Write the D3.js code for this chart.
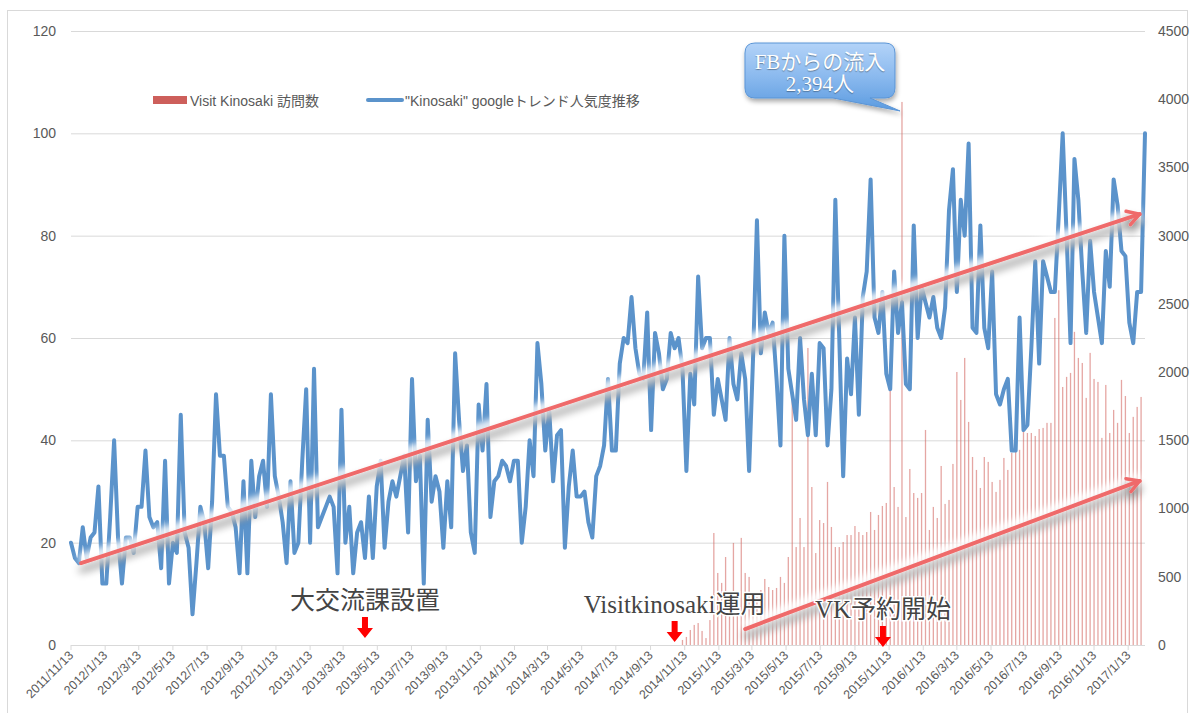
<!DOCTYPE html>
<html><head><meta charset="utf-8">
<script src="https://cdn.jsdelivr.net/npm/d3@7"></script>
<style>body{margin:0;background:#fff}svg{display:block}</style>
</head><body>
<svg id="chart" width="1195" height="713"></svg>
<script>
// ---------------- data ----------------
const trendStart = "2011/11/13";   // weekly series start (Google Trends)
const trendValues = [
 20,17,16,23,17,21,22,31,12,12, 25,40,21,12,21,21,18,27,27,38, 25,23,24,15,36,12,20,18,45,22,
 19,6,16,27,24,15,28,49,37,37, 27,26,23,14,32,14,36,25,33,36, 27,49,33,29,24,16,32,18,20,36,
 50,20,54,23,25,27,29,27,14,
 46,20,27,14,22,24,17,29,17,31, 36,19,28,32,29,33,37,22,52,32, 37,12,44,28,33,30,19,32,23,57,
 44,34,39,22,18,47,38,51,25,32, 33,36,35,32,36,36,20,27,40,33, 59,51,38,46,32,41,42,19,31,38,
 29,29,30,24,21,33,35,39,52,
 38,38,55,60,59,68,58,53,52,65, 42,61,57,50,52,61,58,60,54,34, 53,47,72,58,60,60,45,52,48,44,
 60,51,48,57,52,34,56,83,57,65, 61,63,52,39,80,54,49,44,60,48, 41,53,41,59,58,39,50,87,60,33,
 56,49,64,45,68,73,91,64,61,
 69,53,50,73,61,67,51,50,82,60, 70,67,64,68,62,60,66,85,93,69, 87,80,98,62,61,82,62,58,73,49,
 47,50,52,38,38,64,42,43,58,75, 55,75,72,69,69,84,100,80,59,95, 87,73,61,79,69,64,59,77,70,91,
 86,77,76,63,59,69,69,100
];
const visitStart = "2014/11/09";   // weekly visits start
const visitValues = [
 37,59,110,147,161,103,51,183,
 821,528,455,645,381,748,381,785,528,499,
 381,352,403,484,425,403,418,499,455,645,
 1796,718,931,718,2177,1158,674,916,894,1195,
 865,718,718,755,806,806,872,828,806,828,
 975,843,953,1019,1041,1891,1158,1012,3980,938,
 1290,1114,1078,1114,1576,843,1012,931,1312,1034,
 1063,1327,2001,1796,2104,1635,1378,1283,1151,1378,
 1342,1195,1122,1210,1371,1283,1408,1415,1430,1635,
 1554,1554,1532,1583,1591,1628,1628,2397,2600,1891,
 1965,1994,2295,2104,2067,1811,2141,1950,1928,1518,
 1906,1554,1723,1628,1943,1825,1554,1672,1745,1818
];
const leftTicks = [0,20,40,60,80,100,120];
const rightTicks = [0,500,1000,1500,2000,2500,3000,3500,4000,4500];
const xTickLabels = ["2011/11/13","2012/1/13","2012/3/13","2012/5/13","2012/7/13","2012/9/13","2012/11/13",
 "2013/1/13","2013/3/13","2013/5/13","2013/7/13","2013/9/13","2013/11/13",
 "2014/1/13","2014/3/13","2014/5/13","2014/7/13","2014/9/13","2014/11/13",
 "2015/1/13","2015/3/13","2015/5/13","2015/7/13","2015/9/13","2015/11/13",
 "2016/1/13","2016/3/13","2016/5/13","2016/7/13","2016/9/13","2016/11/13","2017/1/13"];
const seriesNames = ["Visit Kinosaki 訪問数", "\"Kinosaki\" googleトレンド人気度推移"];
const eventLabels = ["大交流課設置", "Visitkinosaki運用", "VK予約開始"];
const eventDates = ["2013/4/21", "2014/10/26", "2015/11/2"];
const calloutLines = ["FBからの流入", "2,394人"];
// trend arrows: [startDate, startValue, endDate, endValue, axis]
const trendArrows = [
  ["2011/12/1", 16, "2017/2/6", 84.2, "left"],
  ["2015/3/1", 117, "2017/2/6", 1202, "right"]
];

// ---------------- chart ----------------
const parse = d3.timeParse("%Y/%m/%d");
const t0 = parse(trendStart), v0 = parse(visitStart);
const trend = trendValues.map((v,i)=>({date:d3.timeDay.offset(t0, 7*i), value:v}));
const visits = visitValues.map((v,i)=>({date:d3.timeDay.offset(v0, 7*i), value:v}));

const svg = d3.select("#chart");
const L = 71, R = 1145, T = 31, B = 645;
const x = d3.scaleTime().domain([t0, trend[trend.length-1].date]).range([L, R]);
const yL = d3.scaleLinear().domain([0,120]).range([B, T]);
const yR = d3.scaleLinear().domain([0,4500]).range([B, T]);
const txt = "#595959", grid = "#d9d9d9";
const sans = "'Liberation Sans','Noto Sans CJK JP',sans-serif";
const serif = "'Liberation Serif','Noto Sans CJK JP',serif";

const defs = svg.append("defs");
defs.html(`
 <filter id="shadow" filterUnits="userSpaceOnUse" x="0" y="0" width="1195" height="713">
   <feGaussianBlur in="SourceAlpha" stdDeviation="4.5" result="b"/>
   <feOffset in="b" dx="0" dy="7" result="o"/>
   <feComponentTransfer in="o" result="s"><feFuncA type="linear" slope="0.55"/></feComponentTransfer>
   <feMerge><feMergeNode in="s"/><feMergeNode in="SourceGraphic"/></feMerge>
 </filter>
 <filter id="glow" filterUnits="userSpaceOnUse" x="0" y="0" width="1195" height="713">
   <feGaussianBlur stdDeviation="3"/>
 </filter>
 <filter id="cshadow" filterUnits="userSpaceOnUse" x="0" y="0" width="1195" height="713">
   <feGaussianBlur in="SourceAlpha" stdDeviation="2.5" result="b"/>
   <feOffset in="b" dx="1" dy="3" result="o"/>
   <feComponentTransfer in="o" result="s"><feFuncA type="linear" slope="0.35"/></feComponentTransfer>
   <feMerge><feMergeNode in="s"/><feMergeNode in="SourceGraphic"/></feMerge>
 </filter>
 <linearGradient id="cgrad" x1="0" y1="0" x2="0" y2="1">
   <stop offset="0" stop-color="#b3d3f8"/><stop offset="0.5" stop-color="#8ab9ee"/><stop offset="1" stop-color="#5b9be0"/>
 </linearGradient>
 <marker id="ah" markerUnits="userSpaceOnUse" markerWidth="20" markerHeight="20" refX="15" refY="10" orient="auto">
   <path d="M3,3 L15,10 L3,17" fill="none" stroke="#ef6a6a" stroke-width="3.5" stroke-linecap="round" stroke-linejoin="round"/>
 </marker>`);

// outer border
svg.append("rect").attr("x",7.5).attr("y",10.5).attr("width",1180).attr("height",710)
  .attr("fill","none").attr("stroke",grid);

// gridlines (left axis)
svg.append("g").selectAll("line").data(leftTicks.filter(d=>d>0)).join("line")
  .attr("x1",L).attr("x2",R).attr("y1",d=>yL(d)+0.5).attr("y2",d=>yL(d)+0.5)
  .attr("stroke",grid).attr("stroke-width",1);

// left axis labels
svg.append("g").selectAll("text").data(leftTicks).join("text")
  .attr("x",56).attr("y",d=>yL(d)).attr("dy","0.35em").attr("text-anchor","end")
  .attr("font-family",sans).attr("font-size",14).attr("fill",txt).text(d=>d);
// right axis labels
svg.append("g").selectAll("text").data(rightTicks).join("text")
  .attr("x",1158).attr("y",d=>yR(d)).attr("dy","0.35em").attr("text-anchor","start")
  .attr("font-family",sans).attr("font-size",14).attr("fill",txt).text(d=>d);

// x axis
const xTicks = xTickLabels.map(parse);
const xa = svg.append("g");
xa.append("line").attr("x1",L).attr("x2",R).attr("y1",B+0.5).attr("y2",B+0.5).attr("stroke",grid);
xa.selectAll("line.tk").data(xTicks).join("line").attr("class","tk")
  .attr("x1",d=>x(d)).attr("x2",d=>x(d)).attr("y1",B).attr("y2",B+5).attr("stroke",grid);
xa.selectAll("text").data(xTicks).join("text")
  .attr("transform",d=>`translate(${x(d)},${B+8}) rotate(-45)`)
  .attr("dy","0.35em").attr("text-anchor","end")
  .attr("font-family",sans).attr("font-size",12.5).attr("fill",txt)
  .text((d,i)=>xTickLabels[i]);

// bars (visits, right axis)
svg.append("g").selectAll("rect").data(visits).join("rect")
  .attr("x",d=>x(d.date)-0.65).attr("width",1.3)
  .attr("y",d=>yR(d.value)).attr("height",d=>B-yR(d.value))
  .attr("fill","#d46a66").attr("opacity",0.6);

// trend line (left axis)
svg.append("path").datum(trend)
  .attr("d", d3.line().x(d=>x(d.date)).y(d=>yL(d.value)))
  .attr("fill","none").attr("stroke","#5b93cb").attr("stroke-width",4)
  .attr("stroke-linejoin","round").attr("stroke-linecap","round");

// legend
const lg = svg.append("g");
lg.append("rect").attr("x",153).attr("y",96).attr("width",34).attr("height",8).attr("fill","#cd5f5b");
lg.append("text").attr("x",190).attr("y",106).attr("font-family",sans).attr("font-size",14)
  .attr("fill",txt).text(seriesNames[0]);
lg.append("line").attr("x1",368).attr("x2",402).attr("y1",100).attr("y2",100)
  .attr("stroke","#5b93cb").attr("stroke-width",4).attr("stroke-linecap","round");
lg.append("text").attr("x",405).attr("y",106).attr("font-family",sans).attr("font-size",14)
  .attr("fill",txt).text(seriesNames[1]);

// trend arrows
trendArrows.forEach(a=>{
  const ys = a[4]==="left" ? yL : yR;
  const x1 = x(parse(a[0])), y1 = ys(a[1]), x2 = x(parse(a[2])), y2 = ys(a[3]);
  svg.append("line").attr("x1",x1).attr("y1",y1).attr("x2",x2).attr("y2",y2)
    .attr("stroke","#ffffff").attr("stroke-width",18).attr("opacity",0.85).attr("filter","url(#glow)");
  svg.append("line").attr("x1",x1).attr("y1",y1).attr("x2",x2-2).attr("y2",y2)
    .attr("stroke","#ef6a6a").attr("stroke-width",4).attr("stroke-linecap","round")
    .attr("marker-end","url(#ah)").attr("filter","url(#shadow)");
});

// events (text + red arrows)
const evDy = [0,4,9];
eventLabels.forEach((lab,i)=>{
  const ex = x(parse(eventDates[i]));
  const top = 617 + evDy[i];
  svg.append("text").attr("x",ex).attr("y",609+evDy[i]).attr("text-anchor","middle")
    .attr("font-family",serif).attr("font-size",25).attr("fill","#444")
    .attr("stroke","#fff").attr("stroke-width",3).attr("paint-order","stroke").text(lab);
  svg.append("path")
    .attr("d",`M${ex-3},${top} H${ex+3} V${top+11} H${ex+8} L${ex},${top+21} L${ex-8},${top+11} H${ex-3} Z`)
    .attr("fill","#ff0000");
});

// callout on the spike
const spike = visits.reduce((a,b)=>b.value>a.value?b:a);
const sx = x(spike.date);
const cl = sx-157, cr = sx-7, ct = 43, cb = 98, r = 10;
svg.append("path")
  .attr("d",`M${cl+r},${ct} H${cr-r} Q${cr},${ct} ${cr},${ct+r} V${cb-r} Q${cr},${cb} ${cr-r},${cb} H${cr-25} L${sx-2},${yR(spike.value)+9} L${cr-62},${cb} H${cl+r} Q${cl},${cb} ${cl},${cb-r} V${ct+r} Q${cl},${ct} ${cl+r},${ct} Z`)
  .attr("fill","url(#cgrad)").attr("stroke","#5b95d6").attr("stroke-width",1)
  .attr("filter","url(#cshadow)");
calloutLines.forEach((t,i)=>{
  svg.append("text").attr("x",(cl+cr)/2).attr("y",69+i*22).attr("text-anchor","middle")
    .attr("font-family",serif).attr("font-size",21).attr("fill","#fff")
    .style("text-shadow","0 1px 1px rgba(0,0,0,0.35)").text(t);
});
</script>
</body></html>
